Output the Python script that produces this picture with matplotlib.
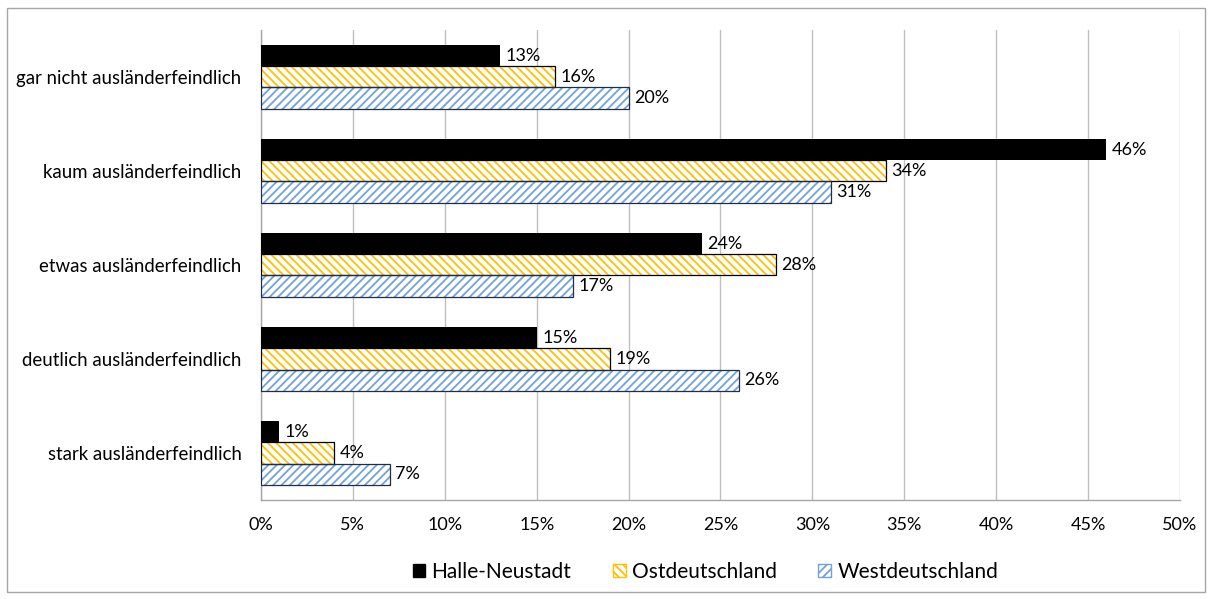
import matplotlib.pyplot as plt
import numpy as np
from matplotlib.patches import Patch, Rectangle
from matplotlib.ticker import FuncFormatter, MultipleLocator

plt.rcParams["font.family"] = ["Lato", "DejaVu Sans"]
plt.rcParams["hatch.linewidth"] = 1.3

# data (percent)
categories = [
    "gar nicht ausländerfeindlich",
    "kaum ausländerfeindlich",
    "etwas ausländerfeindlich",
    "deutlich ausländerfeindlich",
    "stark ausländerfeindlich",
]
halle = [13, 46, 24, 15, 1]
ost = [16, 34, 28, 19, 4]
west = [20, 31, 17, 26, 7]
series_names = ["Halle-Neustadt", "Ostdeutschland", "Westdeutschland"]

fig = plt.figure(figsize=(12.12, 5.99), dpi=100)
ax = fig.add_axes([0.2153, 0.1653, 0.7583, 0.7847])

y = np.arange(len(categories))
h = 0.224
offsets = [-h, 0, h]
gold = "#FFC000"
blue = "#6FA3DC"

# Halle-Neustadt (solid black)
b1 = ax.barh(y + offsets[0], halle, height=h, color="black", zorder=3)
# Ostdeutschland (white with gold diagonal hatch)
ax.barh(y + offsets[1], ost, height=h, color="white", edgecolor=gold,
        hatch="\\\\\\\\", linewidth=0, zorder=3)
b2 = ax.barh(y + offsets[1], ost, height=h, fill=False, edgecolor="black",
             linewidth=0.9, zorder=4)
# Westdeutschland (white with blue diagonal hatch)
ax.barh(y + offsets[2], west, height=h, color="white", edgecolor=blue,
        hatch="////", linewidth=0, zorder=3)
b3 = ax.barh(y + offsets[2], west, height=h, fill=False, edgecolor="#1F2D4A",
             linewidth=0.9, zorder=4)

for bars, vals in [(b1, halle), (b2, ost), (b3, west)]:
    ax.bar_label(bars, labels=[f"{v}%" for v in vals], padding=4,
                 fontsize=13, zorder=5)

ax.set_xlim(0, 50)
ax.set_ylim(len(categories) - 0.5, -0.5)
ax.set_yticks(y)
ax.set_yticklabels(categories, fontsize=13.4)
ax.xaxis.set_major_locator(MultipleLocator(5))
ax.xaxis.set_major_formatter(FuncFormatter(lambda v, p: f"{v:.0f}%"))
ax.tick_params(axis="x", labelsize=13, length=0, pad=12)
ax.tick_params(axis="y", length=0, pad=14)
ax.grid(axis="x", color="#BFBFBF", linewidth=1, zorder=0)
for s in ["top", "right"]:
    ax.spines[s].set_visible(False)
for s in ["left", "bottom"]:
    ax.spines[s].set_color("#A6A6A6")
    ax.spines[s].set_linewidth(1)

handles = [
    Patch(facecolor="black", edgecolor="black"),
    Patch(facecolor="white", edgecolor=gold, hatch="\\\\\\\\"),
    Patch(facecolor="white", edgecolor=blue, hatch="////"),
]
fig.legend(handles, series_names, loc="center", bbox_to_anchor=(0.582, 0.045),
           ncol=3, frameon=False, fontsize=15, handlelength=0.6,
           handleheight=0.6, columnspacing=2.0, handletextpad=0.3)

# outer frame of the chart
fig.patches.append(Rectangle((0.006, 0.012), 0.988, 0.975,
                             transform=fig.transFigure, fill=False,
                             edgecolor="#A6A6A6", linewidth=1))

fig.savefig("out.png", dpi=100)
